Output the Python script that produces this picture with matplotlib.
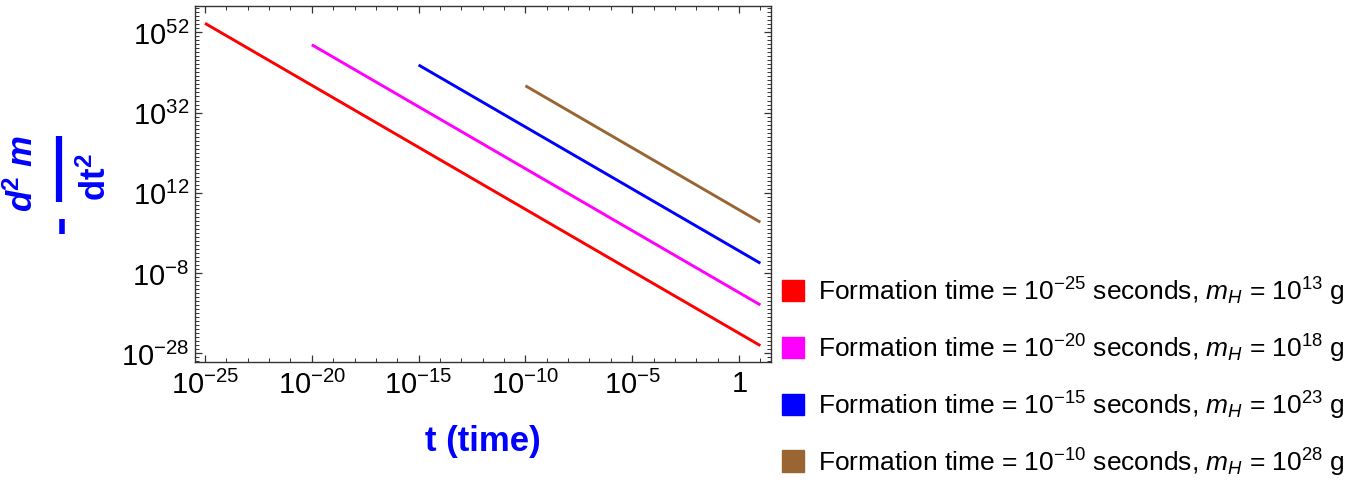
import matplotlib
matplotlib.use("Agg")
import matplotlib.pyplot as plt
from matplotlib.patches import Patch
from matplotlib.lines import Line2D
import numpy as np

# ---- data ----
series_names = ["red", "magenta", "blue", "brown"]
formation_exp = [-25, -20, -15, -10]
mass_exp = [13, 18, 23, 28]
t_start = [1e-25, 1e-20, 1e-15, 1e-10]
t_end = [1e1, 1e1, 1e1, 1e1]
log_y_start = [54.24, 48.9, 43.85, 38.68]
log_y_end = [-26.1, -15.96, -5.56, 4.67]
colors = ["#FF0000", "#FF00FF", "#0000FF", "#996633"]

x_ticks = [1e-25, 1e-20, 1e-15, 1e-10, 1e-5, 1e0]
x_tick_labels = [r"$10^{-25}$", r"$10^{-20}$", r"$10^{-15}$", r"$10^{-10}$", r"$10^{-5}$", r"$1$"]
y_ticks = [1e52, 1e32, 1e12, 1e-8, 1e-28]
y_tick_labels = [r"$10^{52}$", r"$10^{32}$", r"$10^{12}$", r"$10^{-8}$", r"$10^{-28}$"]

# ---- fonts ----
base = "Liberation Sans"
plt.rcParams["font.family"] = [base, "DejaVu Sans"]
plt.rcParams["mathtext.fontset"] = "custom"
plt.rcParams["mathtext.rm"] = base
plt.rcParams["mathtext.it"] = base + ":italic"
plt.rcParams["mathtext.bf"] = base + ":bold"
plt.rcParams["mathtext.bfit"] = base + ":italic:bold"
plt.rcParams["mathtext.sf"] = base

W, H = 1370, 481
fig = plt.figure(figsize=(W / 100, H / 100), dpi=100)
ax = fig.add_axes([0.142, 0.2443, 0.5628 - 0.142, 0.9848 - 0.2443])

for ts, te, ys, ye, c in zip(t_start, t_end, log_y_start, log_y_end, colors):
    ax.plot([ts, te], [10.0 ** ys, 10.0 ** ye], color=c, lw=2.1, solid_capstyle="butt")

ax.set_xscale("log")
ax.set_yscale("log")
ax.set_xlim(10 ** -25.49, 10 ** 1.5)
ax.set_ylim(10 ** -30.3, 10 ** 58.48)

ax.set_xticks(x_ticks)
ax.set_xticklabels(x_tick_labels)
ax.set_yticks(y_ticks)
ax.set_yticklabels(y_tick_labels)
ax.xaxis.set_minor_locator(matplotlib.ticker.FixedLocator([10.0 ** k for k in range(-25, 2)]))
ax.yaxis.set_minor_locator(matplotlib.ticker.FixedLocator([10.0 ** k for k in range(-30, 59)]))
ax.xaxis.set_minor_formatter(matplotlib.ticker.NullFormatter())
ax.yaxis.set_minor_formatter(matplotlib.ticker.NullFormatter())

ax.tick_params(which="both", direction="in", top=True, right=True, color="#333333")
ax.tick_params(which="major", length=5, width=0.9, labelsize=21, pad=5)
ax.tick_params(axis="y", which="major", pad=4)
ax.tick_params(which="minor", length=3, width=0.7)
for s in ax.spines.values():
    s.set_color("#333333")
    s.set_linewidth(1.0)

ax.set_xlabel("t (time)", color="#0000FF", fontsize=25, fontweight="bold", labelpad=18)

# y label: rotated  - d^2 m / dt^2  built from parts
blue = "#0000FF"
fig.text(23 / W, 1 - 173 / H, r"$\boldsymbol{d}^{\boldsymbol{2}}\ \boldsymbol{m}$", rotation=90,
         color=blue, fontsize=25, ha="center", va="center")
fig.text(96 / W, 1 - 177 / H, r"$\mathbf{dt^2}$", rotation=90, color=blue,
         fontsize=25, ha="center", va="center")
fig.add_artist(Line2D([58.5 / W, 58.5 / W], [1 - 137 / H, 1 - 203 / H], color=blue, lw=4.5,
                      transform=fig.transFigure, solid_capstyle="butt"))
fig.add_artist(Line2D([61.5 / W, 61.5 / W], [1 - 220 / H, 1 - 235 / H], color=blue, lw=4.0,
                      transform=fig.transFigure, solid_capstyle="butt"))

handles = [Patch(facecolor=c, edgecolor=c,
                 label=r"Formation time = $10^{%d}$ seconds, $m_H$ = $10^{%d}$ g" % (fe, me))
           for c, fe, me in zip(colors, formation_exp, mass_exp)]
fig.legend(handles=handles, loc="upper left", bbox_to_anchor=(0.5705, 0.426),
           frameon=False, fontsize=19, handlelength=0.85, handleheight=0.85,
           handletextpad=0.54, labelspacing=0.93, borderpad=0, borderaxespad=0)

fig.savefig("out.png", dpi=100)
